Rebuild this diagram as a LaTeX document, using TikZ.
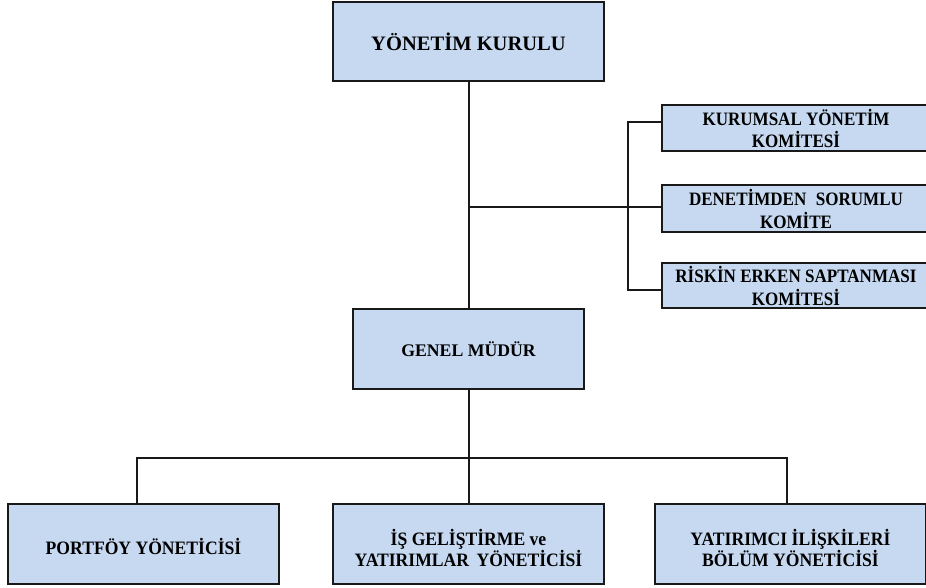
\documentclass[tikz,border=0pt]{standalone}
\usepackage{fontspec}
\setmainfont{Liberation Serif}
\newfontfamily\condA[FakeStretch=0.9]{Liberation Serif}
\newfontfamily\condB[FakeStretch=0.93]{Liberation Serif}
\begin{document}
\begin{tikzpicture}[x=0.75pt,y=-0.75pt,
  box/.style={draw=black!90,line width=1.5pt,fill=boxblue,inner sep=0pt,align=center,font=\bfseries},
  kombox/.style={box,minimum width=268*0.75pt},
  komtext/.style={inner sep=0pt,align=center,font=\condA\bfseries\fontsize{14.2}{16.8}\selectfont},
  altbox/.style={box,minimum width=271*0.75pt,minimum height=80*0.75pt},
  alttext/.style={inner sep=0pt,align=center,font=\condB\bfseries\fontsize{14.2}{16.3}\selectfont},
  conn/.style={draw=black!90,line width=1.5pt}]
\definecolor{boxblue}{HTML}{C6D9F1}
\useasboundingbox (0,0) rectangle (926,588);
\begin{scope}
\clip (0,0) rectangle (926,588);
\node[box,minimum width=271*0.75pt,minimum height=79*0.75pt,font=\bfseries\fontsize{15.4}{18}\selectfont] (yk) at (468.5,41.5) {YÖNETİM KURULU};
\node[kombox,minimum height=46*0.75pt] (k1) at (796,128) {};
\node[kombox,minimum height=47*0.75pt] (k2) at (796,208.5) {};
\node[kombox,minimum height=45*0.75pt] (k3) at (796,285.5) {};
\node[komtext] (k1t) at ([yshift=-0.3pt]k1.center) {KURUMSAL YÖNETİM\\KOMİTESİ};
\node[komtext] (k2t) at ([yshift=-0.3pt]k2.center) {DENETİMDEN\hspace{0.5em}SORUMLU\\KOMİTE};
\node[komtext] (k3t) at ([yshift=-0.3pt]k3.center) {RİSKİN ERKEN SAPTANMASI\\KOMİTESİ};
\node[box,minimum width=231*0.75pt,minimum height=80*0.75pt,font=\bfseries\fontsize{13.3}{15}\selectfont] (gm) at (468.5,349) {GENEL MÜDÜR};
\node[altbox] (b1) at (143.5,544) {};
\node[altbox] (b2) at (468.5,544) {};
\node[altbox] (b3) at (790.5,544) {};
\node[alttext] (b1t) at ([yshift=-1.5pt]b1.center) {PORTFÖY YÖNETİCİSİ};
\node[alttext] (b2t) at ([yshift=-3pt]b2.center) {İŞ GELİŞTİRME ve\\YATIRIMLAR\hspace{0.4em}YÖNETİCİSİ};
\node[alttext] (b3t) at ([yshift=-3pt]b3.center) {YATIRIMCI İLİŞKİLERİ\\BÖLÜM YÖNETİCİSİ};
\end{scope}
\coordinate (j) at (469,207);
\coordinate (c1) at (628,122);
\coordinate (c3) at (628,290);
\coordinate (hl) at (137,458);
\coordinate (hr) at (787,458);
\draw[conn] (yk.south) -- (gm.north);
\draw[conn] (j) -- (k2.west |- j);
\draw[conn] (k1.west |- c1) -- (c1) -- (c3) -- (k3.west |- c3);
\draw[conn] (gm.south) -- (b2.north);
\draw[conn] (hl |- b1.north) -- (hl) -- (hr) -- (hr |- b3.north);
\end{tikzpicture}
\end{document}
